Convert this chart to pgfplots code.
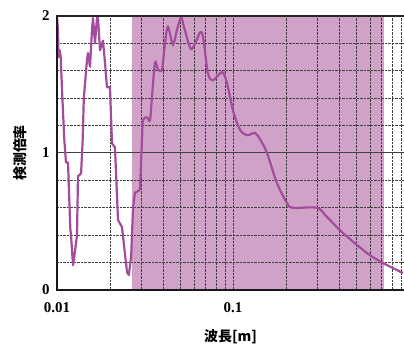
\documentclass[border=0pt]{standalone}
\usepackage{pgfplots}
\pgfplotsset{compat=1.18}
\usepackage{fontspec}
\setmainfont{Liberation Serif}
\newfontfamily\cjk{Noto Sans CJK JP}
\definecolor{shade}{HTML}{D0A2C8}
\definecolor{curve}{HTML}{A44C9C}
\begin{document}
\begin{tikzpicture}
\begin{axis}[
  set layers,
  scale only axis,
  width=347bp, height=274bp,
  xmode=log,
  xmin=0.01, xmax=0.937,
  ymin=0, ymax=2,
  xtick={0.01,0.1},
  xticklabels={0.01,0.1},
  minor xtick={0.02,0.03,0.04,0.05,0.06,0.07,0.08,0.09,0.2,0.3,0.4,0.5,0.6,0.7,0.8,0.9},
  ytick={0,1,2},
  minor ytick={0.2,0.4,0.6,0.8,1.2,1.4,1.6,1.8},
  major tick length=0pt, minor tick length=0pt,
  xmajorgrids, xminorgrids, ymajorgrids, yminorgrids,
  major x grid style={black!75, densely dotted, line width=0.8bp},
  minor x grid style={black!75, densely dotted, line width=0.8bp},
  major y grid style={black!75, line width=1bp},
  minor y grid style={black!75, densely dotted, line width=0.8bp},
  axis line style={draw=none},
  /pgf/number format/assume math mode=true,
  ticklabel style={font=\fontsize{15}{17}\selectfont\bfseries},
  xticklabel style={yshift=-9bp},
  yticklabel style={xshift=-4bp},
  xlabel={\cjk\bfseries 波長[m]},
  ylabel={\cjk\bfseries 検測倍率},
  label style={font=\fontsize{14}{16}\selectfont},
  xlabel style={at={(rel axis cs:0.5,0)}, anchor=center, yshift=-47bp},
  ylabel style={at={(rel axis cs:0,0.5)}, anchor=center, yshift=37bp},
]
\addplot[fill=shade, draw=none, on layer=axis background] coordinates {(0.0267,0) (0.0267,2) (0.72,2) (0.72,0)} -- cycle;
\addplot[curve, line width=2.2bp, line join=round] coordinates {
(0.0100,1.99) (0.01013,1.90) (0.01020,1.70) (0.01035,1.75) (0.01050,1.70)
(0.01068,1.46) (0.01100,1.10) (0.01125,0.93) (0.01155,0.93) (0.01190,0.45)
(0.01201,0.40) (0.01233,0.18) (0.01270,0.30) (0.01299,0.40) (0.01316,0.83)
(0.01370,0.85) (0.01400,1.10) (0.01420,1.40) (0.01481,1.68) (0.01500,1.73)
(0.01540,1.63) (0.01581,1.90) (0.01602,1.985) (0.01644,1.80) (0.01688,1.99)
(0.01710,1.99) (0.01755,1.75) (0.01825,1.82) (0.01874,1.66) (0.01923,1.48)
(0.02000,1.48) (0.02054,1.07) (0.02136,1.04) (0.02222,0.51) (0.02340,0.46)
(0.02500,0.13) (0.02560,0.11) (0.02640,0.25) (0.02703,0.60) (0.02775,0.71)
(0.02962,0.73)
};
\addplot[curve, line width=2.2bp, smooth, tension=0.5] coordinates {
(0.02962,0.73) (0.03041,1.10) (0.03081,1.24) (0.03246,1.26) (0.03376,1.24)
(0.03466,1.41) (0.03605,1.66) (0.03749,1.61) (0.03951,1.61) (0.04108,1.80)
(0.04272,1.92) (0.04561,1.79) (0.04807,1.90) (0.05066,1.99) (0.05268,1.92)
(0.05698,1.77) (0.05926,1.77) (0.06246,1.83) (0.06494,1.88) (0.06754,1.85)
(0.07211,1.58) (0.07697,1.53) (0.0866,1.59) (0.09245,1.51) (0.1,1.31)
(0.1096,1.17) (0.1201,1.13) (0.1334,1.146) (0.1424,1.10) (0.1561,1.0)
(0.1778,0.78) (0.2027,0.635) (0.2192,0.60) (0.3001,0.60) (0.3421,0.533)
(0.4217,0.416) (0.5773,0.270) (0.7117,0.197) (0.9246,0.124)
};
\end{axis}
\draw[black!85, line width=1.6bp] (current axis.north west) -- (current axis.north east);
\draw[black!90, line width=2.6bp, line cap=rect] (current axis.north west) -- (current axis.south west) -- (current axis.south east);
\pgfresetboundingbox
\path ([xshift=-57bp,yshift=-55bp]current axis.south west) rectangle ([yshift=16bp]current axis.north east);
\end{tikzpicture}
\end{document}
